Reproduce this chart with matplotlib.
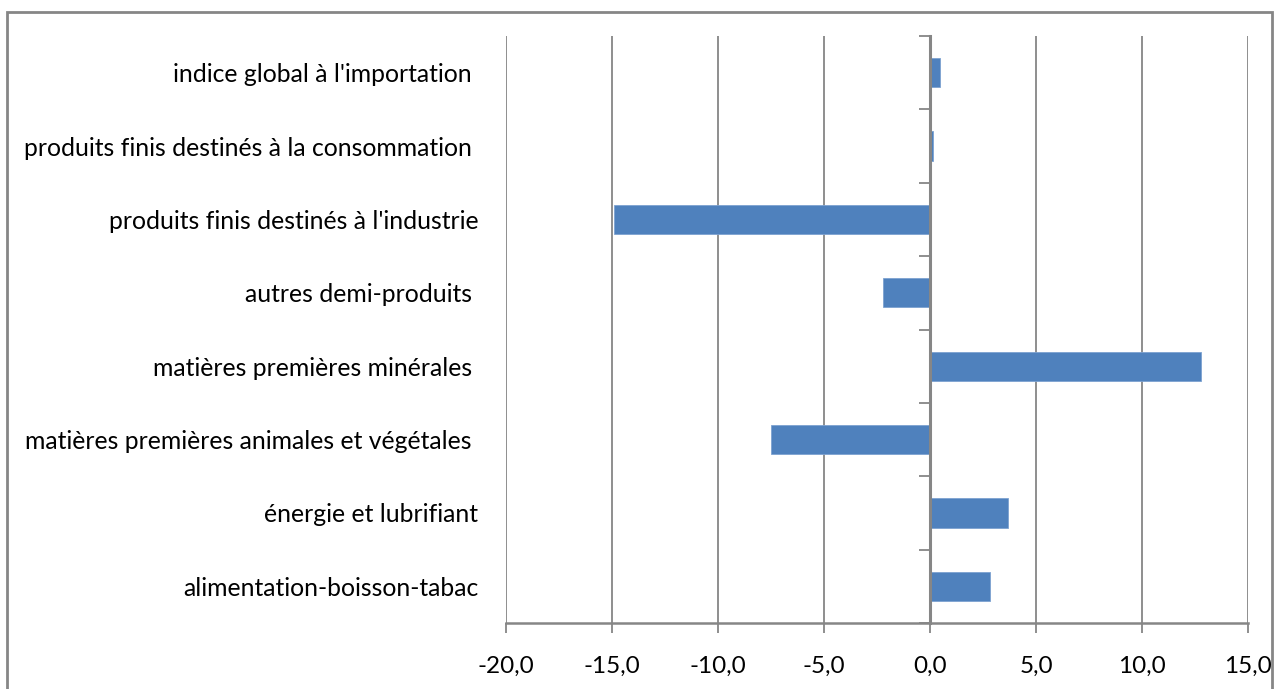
import matplotlib
matplotlib.use("Agg")
import matplotlib.pyplot as plt
from matplotlib.patches import Rectangle

categories = [
    "alimentation-boisson-tabac",
    "énergie et lubrifiant",
    "matières premières animales et végétales ",
    "matières premières minérales ",
    "autres demi-produits ",
    "produits finis destinés à l'industrie",
    "produits finis destinés à la consommation ",
    "indice global à l'importation ",
]
values = [2.85, 3.7, -7.5, 12.8, -2.2, -14.9, 0.15, 0.45]
xticks = [-20, -15, -10, -5, 0, 5, 10, 15]

plt.rcParams['font.family'] = ['Lato', 'DejaVu Sans']

W, H = 1276, 689
fig = plt.figure(figsize=(W / 100, H / 100), dpi=100)
fig.patch.set_facecolor('white')
ax = fig.add_axes([506 / W, 1 - 623 / H, (1248 - 506) / W, (623 - 36) / H])

gray = '#868686'
pos = list(range(len(categories)))
ax.barh(pos, values, height=0.4, color='#4F81BD', edgecolor='#7DA2D1', linewidth=0.6, zorder=3)

ax.set_xlim(-20, 15)
ax.set_ylim(-0.5, len(categories) - 0.5)
ax.set_xticks(xticks)
ax.set_xticklabels([f"{t:.1f}".replace('.', ',') for t in xticks], fontsize=17.5, color='black')
ax.tick_params(axis='x', length=7, width=1.3, color=gray, pad=17)
ax.grid(axis='x', color=gray, linewidth=1.3, zorder=0)

ax.set_yticks(pos)
ax.set_yticklabels(categories, fontsize=17.8, color='black')
ax.tick_params(axis='y', length=0, pad=20)

for s in ['top', 'right', 'left']:
    ax.spines[s].set_visible(False)
ax.spines['bottom'].set_color(gray)
ax.spines['bottom'].set_linewidth(1.8)

# category axis at x = 0 with boundary tick marks
ax2 = ax.twinx()
ax2.set_ylim(ax.get_ylim())
ax2.set_xlim(ax.get_xlim())
for s in ['top', 'right', 'bottom']:
    ax2.spines[s].set_visible(False)
ax2.spines['left'].set_position(('data', 0))
ax2.spines['left'].set_color(gray)
ax2.spines['left'].set_linewidth(2.2)
ax2.yaxis.set_ticks_position('left')
ax2.set_yticks([p - 0.5 for p in pos] + [len(categories) - 0.5])
ax2.set_yticklabels([])
ax2.tick_params(axis='y', length=8, width=1.3, color=gray, direction='out')
ax2.patch.set_visible(False)

fig.add_artist(Rectangle((7 / W, -0.05), (1272 - 7) / W, 1 - 12 / H + 0.05,
                         transform=fig.transFigure, fill=False,
                         edgecolor=gray, linewidth=2))

fig.savefig("out.png", dpi=100)
